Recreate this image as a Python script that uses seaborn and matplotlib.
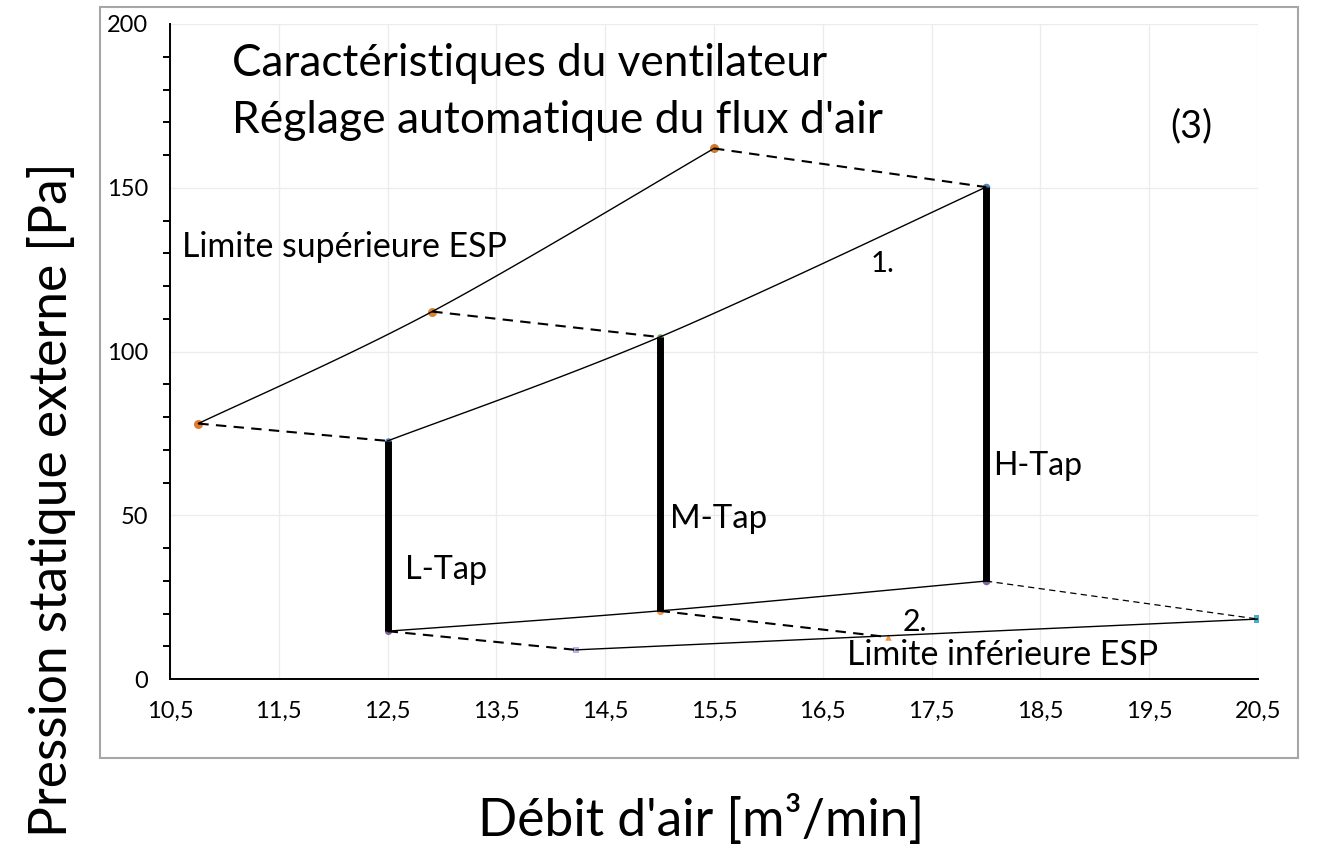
import numpy as np
import pandas as pd
import matplotlib
matplotlib.use("Agg")
import matplotlib.pyplot as plt
from matplotlib.patches import Rectangle
from matplotlib.ticker import MultipleLocator
import seaborn as sns

# ---------------- data ----------------
upper_x = [10.76, 12.91, 15.5]          # Limite supérieure ESP
upper_y = [78.0, 112.2, 162.0]
tap_x = [12.5, 15.0, 18.0]              # L / M / H taps
tap_hi = [72.7, 104.4, 150.2]           # curve 1.
tap_lo = [14.6, 20.8, 29.9]             # curve 2.
lower_x = [14.23, 20.5]                 # Limite inférieure ESP
lower_y = [8.9, 18.3]
lower_mid = (17.1, 12.8)
tap_labels = ["L-Tap", "M-Tap", "H-Tap"]
mid_point = (12.5, 48.5)

x_ticks = [10.5, 11.5, 12.5, 13.5, 14.5, 15.5, 16.5, 17.5, 18.5, 19.5, 20.5]
x_ticklabels = ["10,5", "11,5", "12,5", "13,5", "14,5", "15,5", "16,5", "17,5", "18,5", "19,5", "20,5"]
y_ticks = [0, 50, 100, 150, 200]

title_lines = ["Caractéristiques du ventilateur", "Réglage automatique du flux d'air"]
xlabel = "Débit d'air [m³/min]"
ylabel = "Pression statique externe [Pa]"

# ---------------- style ----------------
sns.set_theme(style="white")
plt.rcParams["font.family"] = ["Lato", "DejaVu Sans"]

W, H = 1322, 851
fig = plt.figure(figsize=(W / 100, H / 100), dpi=100)
L, R, T, B = 170, 1258, 24, 679
ax = fig.add_axes([L / W, 1 - B / H, (R - L) / W, (B - T) / H])
ax.set_xlim(10.5, 20.5)
ax.set_ylim(0, 200)

# outer grey frame
fig.patches.append(Rectangle((100 / W, 1 - 758 / H), (1298 - 100) / W, (758 - 7) / H,
                             transform=fig.transFigure, fill=False,
                             edgecolor="#a6a6a6", lw=1.5, zorder=0))


def smooth(xs, ys, n=60):
    """Excel-like smoothed line (Catmull-Rom / Bezier) computed in pixel space."""
    sx, sy = (R - L) / 10.0, (B - T) / 200.0
    P = np.column_stack([np.asarray(xs) * sx, np.asarray(ys) * sy])
    Pext = np.vstack([P[0], P, P[-1]])
    out = []
    for i in range(1, len(Pext) - 2):
        p0, p1, p2, p3 = Pext[i - 1], Pext[i], Pext[i + 1], Pext[i + 2]
        c1 = p1 + (p2 - p0) / 6.0
        c2 = p2 - (p3 - p1) / 6.0
        t = np.linspace(0, 1, n)[:, None]
        seg = ((1 - t) ** 3) * p1 + 3 * ((1 - t) ** 2) * t * c1 + 3 * (1 - t) * t ** 2 * c2 + t ** 3 * p2
        out.append(seg if i == 1 else seg[1:])
    out = np.vstack(out)
    return out[:, 0] / sx, out[:, 1] / sy


def line(xs, ys, **kw):
    sns.lineplot(x=list(xs), y=list(ys), sort=False, estimator=None, ax=ax,
                 color="black", **kw)


# markers (below lines)
markers = [
    (upper_x[0], upper_y[0], "#e07a30", "o", 42),
    (upper_x[1], upper_y[1], "#d98430", "o", 42),
    (upper_x[2], upper_y[2], "#d07a2a", "o", 42),
    (tap_x[0], tap_hi[0], "#4f81bd", "o", 22),
    (tap_x[1], tap_hi[1], "#6fa05a", "o", 22),
    (tap_x[2], tap_hi[2], "#4f81bd", "o", 30),
    (tap_x[0], tap_lo[0], "#8064a2", "o", 26),
    (tap_x[1], tap_lo[1], "#f79646", "o", 26),
    (tap_x[2], tap_lo[2], "#8064a2", "o", 30),
    (lower_x[0], lower_y[0], "#b4b4e6", "s", 20),
    (lower_mid[0], lower_mid[1], "#f79646", "^", 22),
    (lower_x[1], lower_y[1], "#4bacc6", "s", 26),
    (mid_point[0], mid_point[1], "#9dc3e6", "o", 10),
]
for mx, my, mc, mm, ms in markers:
    sns.scatterplot(x=[mx], y=[my], color=mc, marker=mm, s=ms, linewidth=0,
                    ax=ax, zorder=2, legend=False)

# smoothed solid curves
lw_thin = 1.0
for xs, ys in [(upper_x, upper_y), (tap_x, tap_hi), (tap_x, tap_lo)]:
    sx_, sy_ = smooth(xs, ys)
    line(sx_, sy_, lw=lw_thin, zorder=3)
line(lower_x, lower_y, lw=lw_thin, zorder=3)

# dashed connectors
dash = (0, (5, 3.5))
line([upper_x[0], tap_x[0]], [upper_y[0], tap_hi[0]], lw=1.5, linestyle=dash, zorder=3)
line([upper_x[1], tap_x[1]], [upper_y[1], tap_hi[1]], lw=1.5, linestyle=dash, zorder=3)
line([upper_x[2], tap_x[2]], [upper_y[2], tap_hi[2]], lw=1.5, linestyle=dash, zorder=3)
line([tap_x[0], lower_x[0]], [tap_lo[0], lower_y[0]], lw=1.5, linestyle=dash, zorder=3)
line([tap_x[1], lower_mid[0]], [tap_lo[1], lower_mid[1]], lw=1.5, linestyle=dash, zorder=3)
line([tap_x[2], lower_x[1]], [tap_lo[2], lower_y[1]], lw=0.9, linestyle=(0, (5, 3.5)), zorder=3)

# thick vertical tap lines
for tx, lo, hi in zip(tap_x, tap_lo, tap_hi):
    line([tx, tx], [lo, hi], lw=5, zorder=4, solid_capstyle="butt")

# ---------------- axes cosmetics ----------------
ax.set_xticks(x_ticks)
ax.set_xticklabels(x_ticklabels)
ax.set_yticks(y_ticks)
ax.yaxis.set_minor_locator(MultipleLocator(10))
ax.grid(True, which="major", color="#ececec", lw=1.0)
ax.set_axisbelow(True)
for s in ["top", "right"]:
    ax.spines[s].set_visible(False)
for s in ["left", "bottom"]:
    ax.spines[s].set_color("black")
    ax.spines[s].set_linewidth(1.4)
ax.tick_params(axis="both", which="major", direction="out", length=6.5, width=1.4,
               color="black", labelsize=17, labelcolor="black")
ax.tick_params(axis="y", which="major", pad=9)
ax.tick_params(axis="x", which="major", pad=9)
ax.tick_params(axis="y", which="minor", direction="out", length=5, width=1.4,
               color="black", left=True)
ax.set_xlabel("")
ax.set_ylabel("")

# ---------------- texts ----------------
fig.canvas.draw()
renderer = fig.canvas.get_renderer()


def fit(t, target, dim="w"):
    for _ in range(2):
        bb = t.get_window_extent(renderer)
        cur = bb.width if dim == "w" else bb.height
        t.set_fontsize(t.get_fontsize() * target / cur)


texts = [
    (title_lines[0], 11.07, 184.1, 596),
    (title_lines[1], 11.07, 166.7, 651),
    ("(3)", 19.69, 165.5, 42),
    ("Limite supérieure ESP", 10.61, 128.9, 325),
    ("1.", 16.94, 124.3, 24),
    (tap_labels[2], 18.07, 62.3, 89),
    (tap_labels[1], 15.10, 46.1, 97),
    (tap_labels[0], 12.66, 30.5, 82),
    ("2.", 17.23, 14.7, 25),
    ("Limite inférieure ESP", 16.72, 4.3, 311),
]
for s, tx, ty, tw in texts:
    t = ax.text(tx, ty, s, ha="left", va="baseline", fontsize=20, color="black", zorder=5)
    fit(t, tw)

yl = fig.text(52 / W, 1 - 500 / H, ylabel, rotation=90, ha="center", va="center",
              fontsize=30, color="black")
fit(yl, 675, "h")
xl = fig.text(701 / W, 1 - 820 / H, xlabel, ha="center", va="center",
              fontsize=yl.get_fontsize(), color="black")

fig.savefig("out.png", dpi=100)
